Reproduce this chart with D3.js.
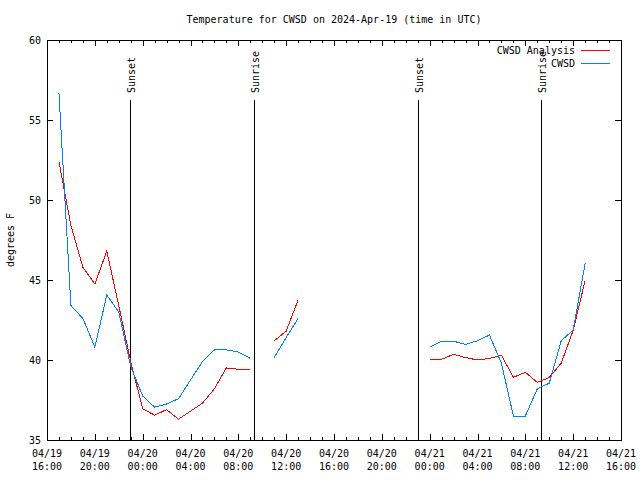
<!DOCTYPE html>
<html><head><meta charset="utf-8">
<script src="https://cdn.jsdelivr.net/npm/d3@7"></script>
<style>
body{margin:0;background:#fff;}
text{font-family:"DejaVu Sans Mono","Liberation Mono",monospace;font-size:10px;fill:#000;}
</style></head>
<body><svg id="c" width="640" height="480"></svg>
<script>
const title = "Temperature for CWSD on 2024-Apr-19 (time in UTC)";
const yLabel = "degrees F";
const seriesNames = ["CWSD Analysis", "CWSD"];
const seriesColors = ["#ff0000", "#0080ff"];
const times = [
 "2024-04-19T17:00Z","2024-04-19T18:00Z","2024-04-19T19:00Z","2024-04-19T20:00Z","2024-04-19T21:00Z",
 "2024-04-19T22:00Z","2024-04-19T23:00Z","2024-04-20T00:00Z","2024-04-20T01:00Z","2024-04-20T02:00Z",
 "2024-04-20T03:00Z","2024-04-20T04:00Z","2024-04-20T05:00Z","2024-04-20T06:00Z","2024-04-20T07:00Z",
 "2024-04-20T08:00Z","2024-04-20T09:00Z","2024-04-20T10:00Z","2024-04-20T11:00Z","2024-04-20T12:00Z",
 "2024-04-20T13:00Z","2024-04-20T14:00Z","2024-04-20T15:00Z","2024-04-20T16:00Z","2024-04-20T17:00Z",
 "2024-04-20T18:00Z","2024-04-20T19:00Z","2024-04-20T20:00Z","2024-04-20T21:00Z","2024-04-20T22:00Z",
 "2024-04-20T23:00Z","2024-04-21T00:00Z","2024-04-21T01:00Z","2024-04-21T02:00Z","2024-04-21T03:00Z",
 "2024-04-21T04:00Z","2024-04-21T05:00Z","2024-04-21T06:00Z","2024-04-21T07:00Z","2024-04-21T08:00Z",
 "2024-04-21T09:00Z","2024-04-21T10:00Z","2024-04-21T11:00Z","2024-04-21T12:00Z","2024-04-21T13:00Z"];
const analysis = [52.4,48.4,45.8,44.75,46.8, 43.4,39.9,36.95,36.55,36.9, 36.3,36.8,37.3,38.2,39.5,
 39.42,39.42,null,41.2,41.8, 43.75,null,null,null,null, null,null,null,null,null,
 null,40.05,40.05,40.35,40.15, 40.0,40.1,40.3,38.92,39.23, 38.6,38.9,39.8,41.85,44.97];
const observed = [56.67,43.4,42.6,40.8,44.06, 43.0,39.6,37.75,37.05,37.25, 37.58,38.75,39.9,40.63,40.63,
 40.5,40.1,null,40.15,41.4, 42.6,null,null,null,null, null,null,null,null,null,
 null,40.8,41.17,41.17,40.98, 41.2,41.56,39.8,36.5,36.5, 38.2,38.55,41.2,41.87,46.04];
const sunEvents = [["Sunset","2024-04-19T22:58Z"],["Sunrise","2024-04-20T09:20Z"],
                   ["Sunset","2024-04-20T23:03Z"],["Sunrise","2024-04-21T09:20Z"]];
const xDomain = ["2024-04-19T16:00Z","2024-04-21T16:00Z"];
const yDomain = [35, 60];
const yTicks = [35,40,45,50,55,60];

const svg = d3.select("#c");
const L=47, R=621, T=40, B=440;
const x = d3.scaleUtc().domain(xDomain.map(d=>new Date(d))).range([L,R]);
const y = d3.scaleLinear().domain(yDomain).range([B,T]);

svg.append("text").attr("x",(L+R)/2).attr("y",23).attr("text-anchor","middle").text(title);
svg.append("text").attr("transform",`translate(14,${(T+B)/2}) rotate(-90)`).attr("text-anchor","middle").text(yLabel);

const g = svg.append("g").attr("shape-rendering","crispEdges");
// minor x ticks
const minor = x.ticks(d3.utcHour.every(1));
const major = x.ticks(d3.utcHour.every(4));
minor.forEach(t=>{
  const px = Math.round(x(t))+0.5;
  const len = major.some(m=>+m===+t)?6:3;
  g.append("line").attr("x1",px).attr("x2",px).attr("y1",B).attr("y2",B-len).attr("stroke","#000");
  g.append("line").attr("x1",px).attr("x2",px).attr("y1",T).attr("y2",T+len).attr("stroke","#000");
});
major.forEach(t=>{
  const tx = svg.append("text").attr("x",x(t)).attr("y",457).attr("text-anchor","middle");
  tx.append("tspan").attr("x",x(t)).text(d3.utcFormat("%m/%d")(t));
  tx.append("tspan").attr("x",x(t)).attr("dy",13).text(d3.utcFormat("%H:%M")(t));
});
yTicks.forEach(v=>{
  const py = Math.round(y(v))+0.5;
  g.append("line").attr("x1",L).attr("x2",L+6).attr("y1",py).attr("y2",py).attr("stroke","#000");
  g.append("line").attr("x1",R-6).attr("x2",R).attr("y1",py).attr("y2",py).attr("stroke","#000");
  svg.append("text").attr("x",41).attr("y",y(v)+4).attr("text-anchor","end").text(v);
});
g.append("rect").attr("x",L+0.5).attr("y",T+0.5).attr("width",R-L).attr("height",B-T)
  .attr("fill","none").attr("stroke","#000");

// sun lines
sunEvents.forEach(([lab,t])=>{
  const px = Math.round(x(new Date(t)))+0.5;
  g.append("line").attr("x1",px).attr("x2",px).attr("y1",100).attr("y2",B).attr("stroke","#000");
  svg.append("text").attr("transform",`translate(${px+4},93) rotate(-90)`).attr("text-anchor","start").text(lab);
});

// series
const line = d3.line().defined(d=>d[1]!=null).x(d=>x(d[0])).y(d=>y(d[1]));
[analysis, observed].forEach((vals,i)=>{
  const pts = times.map((t,j)=>[new Date(t), vals[j]]);
  svg.append("path").attr("d",line(pts)).attr("fill","none").attr("stroke",seriesColors[i])
    .attr("stroke-width",1).attr("shape-rendering","crispEdges");
});

// legend
seriesNames.forEach((n,i)=>{
  const ly = 50 + i*12.5;
  svg.append("text").attr("x",575).attr("y",ly+4).attr("text-anchor","end").text(n);
  g.append("line").attr("x1",581).attr("x2",610).attr("y1",Math.round(ly)+0.5).attr("y2",Math.round(ly)+0.5)
    .attr("stroke",seriesColors[i]);
});
</script></body></html>
